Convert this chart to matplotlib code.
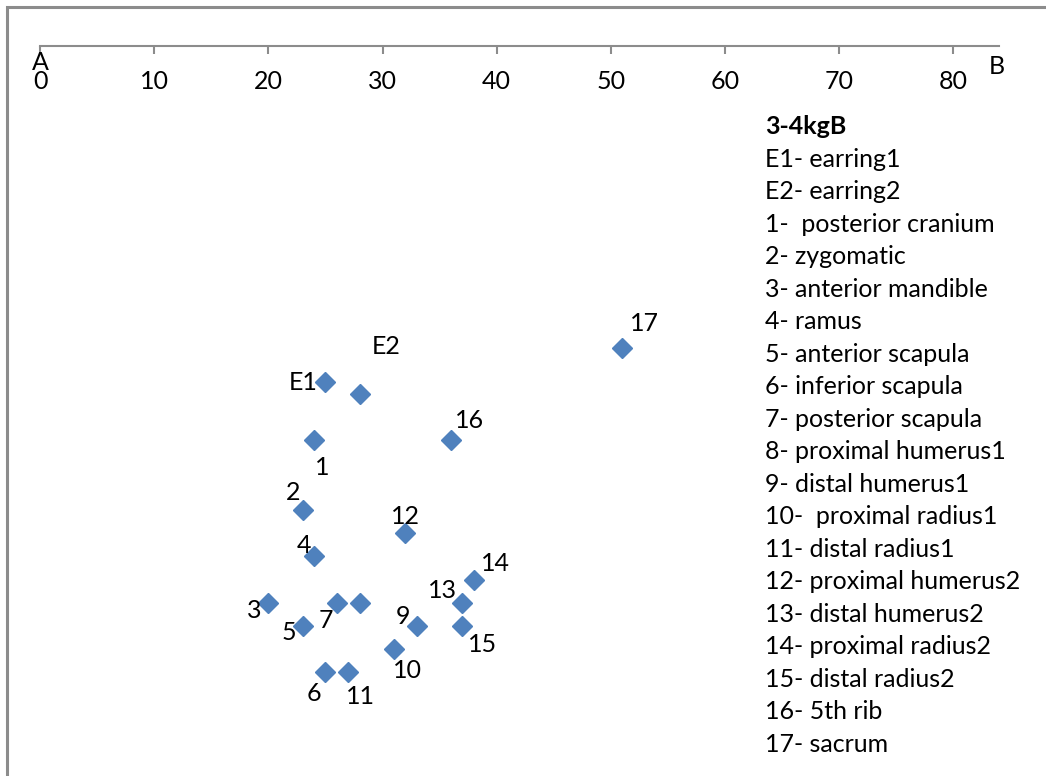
import matplotlib
matplotlib.use("Agg")
import matplotlib.pyplot as plt
from matplotlib.patches import Rectangle

# bone fragment positions, sample 3-4kgB
point_ids = ["E1", "E2", "1", "2", "3", "4", "5", "6", "7", "8",
             "9", "10", "11", "12", "13", "14", "15", "16", "17"]
x_vals = [25, 28, 24, 23, 20, 24, 23, 25, 26, 28,
          33, 31, 27, 32, 37, 38, 37, 36, 51]
y_vals = [14.5, 15, 17, 20, 24, 22, 25, 27, 24, 24,
          25, 26, 27, 21, 24, 23, 25, 17, 13]

x_ticks = [0, 10, 20, 30, 40, 50, 60, 70, 80]

key_title = "3-4kgB"
key_lines = ["E1- earring1", "E2- earring2", "1-  posterior cranium",
             "2- zygomatic", "3- anterior mandible", "4- ramus",
             "5- anterior scapula", "6- inferior scapula",
             "7- posterior scapula", "8- proximal humerus1",
             "9- distal humerus1", "10-  proximal radius1",
             "11- distal radius1", "12- proximal humerus2",
             "13- distal humerus2", "14- proximal radius2",
             "15- distal radius2", "16- 5th rib", "17- sacrum"]

# where each point label sits relative to its marker (pixels, up is +)
label_offsets = {
    "E1": (-22, 0), "E2": (27, 47), "1": (8, -27), "2": (-9, 17),
    "3": (-14, -8), "4": (-10, 11), "5": (-14, -7), "6": (-11, -21),
    "7": (-11, -18), "9": (-14, 9), "10": (14, -21), "11": (12, -24),
    "12": (0, 17), "13": (-20, 12), "14": (22, 16), "15": (20, -19),
    "16": (19, 20), "17": (22, 24),
}

W, H = 1046, 776
plt.rcParams['font.family'] = ['Lato', 'DejaVu Sans']
FS = 18

fig = plt.figure(figsize=(W / 100, H / 100), dpi=100)
fig.patch.set_facecolor('white')

# chart area frame (only top and left edges fall inside the image)
fig.add_artist(Rectangle((7 / W, -1), 2, 1 - 7 / H + 1,
                         transform=fig.transFigure, fill=False,
                         ec='#8c8c8c', lw=2.2))

ax = fig.add_axes([40 / W, 0, (999 - 40) / W, (H - 46) / H])
ax.set_xlim(0, 84)
ax.set_ylim((H - 46) / 23.2, 0)
ax.patch.set_alpha(0)

for s in ['left', 'right', 'top']:
    ax.spines[s].set_visible(False)
ax.spines['bottom'].set_position(('data', 0))
ax.spines['bottom'].set_color('#8c8c8c')
ax.spines['bottom'].set_linewidth(1.5)

ax.set_xticks(x_ticks)
ax.set_xticklabels([str(t) for t in x_ticks])
ax.tick_params(axis='x', direction='out', length=6, width=1.5,
               color='#8c8c8c', labelsize=FS, pad=11, labelcolor='black')
ax.set_yticks([])

ax.plot(x_vals, y_vals, ls='none', marker='D', ms=10,
        color='#4F81BD', mec='#4F81BD', clip_on=False)

for pid, x, y in zip(point_ids, x_vals, y_vals):
    if pid not in label_offsets:
        continue
    ax.annotate(pid, (x, y), xytext=label_offsets[pid],
                textcoords='offset pixels', ha='center', va='center',
                fontsize=FS)

ax.annotate("A", (0, 0), xytext=(0, -17), textcoords='offset pixels',
            ha='center', va='center', fontsize=FS)
ax.annotate("B", (84, 0), xytext=(-2, -21), textcoords='offset pixels',
            ha='center', va='center', fontsize=FS)

fig.text(765 / W, 1 - 126.7 / H, key_title, fontsize=FS,
         fontweight='bold', va='center', ha='left')
for i, line in enumerate(key_lines):
    fig.text(765 / W, 1 - (126.7 + (i + 1) * 32.5) / H, line,
             fontsize=FS, va='center', ha='left')

fig.savefig("out.png", dpi=100)
